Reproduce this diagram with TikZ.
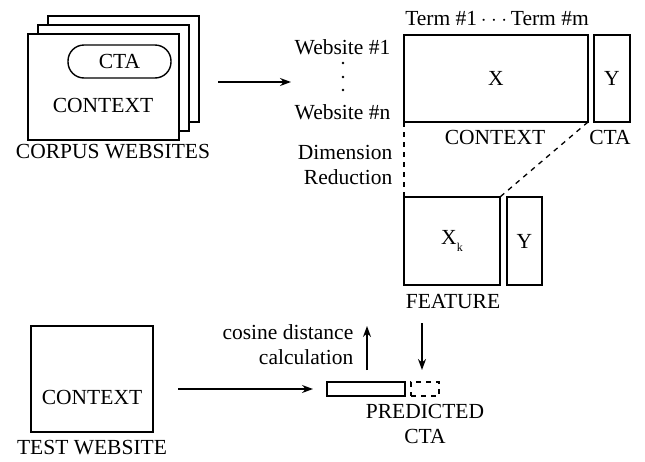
\documentclass[tikz,border=0pt]{standalone}
\usepackage{fontspec}
\setmainfont{Liberation Serif}
\usetikzlibrary{arrows.meta}
\begin{document}
\begin{tikzpicture}[x=1pt,y=-1pt,line width=1.4pt,
  txt/.style={font=\fontsize{21.5}{25}\selectfont, inner sep=0pt, align=center},
  box/.style={draw, fill=white, inner sep=0pt, outer sep=0pt},
  arr/.style={-{Stealth[length=11pt,width=8pt]}},
  dsh/.style={dash pattern=on 5pt off 5pt, line width=1.3pt}]
\useasboundingbox (0,0) rectangle (645,461);
% corpus stack
\node[box, minimum width=151, minimum height=106] (back) at (123.5,69) {};
\node[box, minimum width=151, minimum height=106] (mid) at (113.5,78) {};
\node[box, minimum width=151, minimum height=106] (front) at (103.5,87) {};
\node[box, rounded corners=16pt, minimum width=103, minimum height=33] (cta) at (119.5,61.5) {};
\node[txt] (ctat) at (cta.center) {CTA};
\node[txt] (ctxt) at (103,105) {CONTEXT};
\node[txt] (corpus) at (113,152) {CORPUS WEBSITES};
\coordinate (a1) at (218,82);
\coordinate (a2) at (291,82);
\draw[arr] (a1) -- (a2);
% matrix
\node[txt] (terms) at (497,19) {Term \#1\,$\cdot\cdot\cdot$\,Term \#m};
\node[box, minimum width=184, minimum height=87] (X) at (496,78.5) {};
\node[txt] at (X.center) {X};
\node[box, minimum width=36, minimum height=87] (Y) at (612,78.5) {};
\node[txt] at (Y.center) {Y};
\node[txt, anchor=east] (w1) at (391,47) {Website \#1};
\node[txt, anchor=east] (wn) at (391,112) {Website \#n};
\foreach \yy in {63,77,90} \fill (343,\yy) circle (1.4pt);
\node[txt] (ctxlab) at (495,137) {CONTEXT};
\node[txt] (ctalab) at (610,137) {CTA};
\node[txt, anchor=east, align=right] (dr) at (393,165) {Dimension\\Reduction};
% feature
\node[box, minimum width=96, minimum height=88] (Xk) at (452,241) {};
\node[txt] at (Xk.center) {X\raisebox{-7pt}{\fontsize{12}{12}\selectfont k}};
\node[box, minimum width=35, minimum height=88] (Yk) at (524.5,241) {};
\node[txt] at (Yk.center) {Y};
\node[txt] (feat) at (453,302) {FEATURE};
\draw[dsh] (X.south west) -- (Xk.north west);
\draw[dsh] (X.south east) -- (Xk.north east);
% test
\node[box, minimum width=122, minimum height=106] (test) at (92,379) {};
\node[txt] at (92,397) {CONTEXT};
\node[txt] (testlab) at (92,448) {TEST WEBSITE};
\node[box, minimum width=78, minimum height=14] (vec) at (366,389) {};
\node[draw, dsh, inner sep=0pt, minimum width=28, minimum height=14] (pred) at (425,389) {};
\coordinate (b1) at (178,389);
\coordinate (b2) at (313,389);
\draw[arr] (b1) -- (b2);
\coordinate (u1) at (367,370);
\coordinate (u2) at (367,326);
\draw[arr] (u1) -- (u2);
\coordinate (d1) at (422,323);
\coordinate (d2) at (422,370);
\draw[arr] (d1) -- (d2);
\node[txt, anchor=east, align=right] (cos) at (354,345) {cosine distance\\calculation};
\node[txt] (predlab) at (425,424) {PREDICTED\\CTA};
\end{tikzpicture}
\end{document}
